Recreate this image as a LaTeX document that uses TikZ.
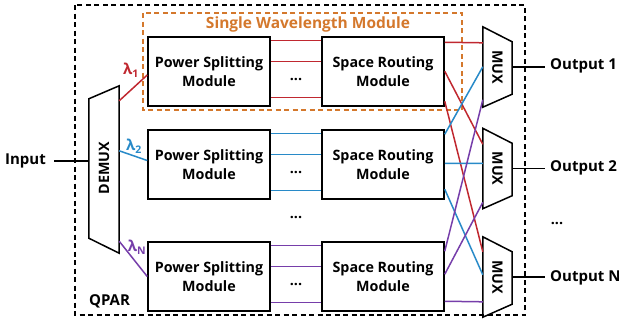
\documentclass[tikz,border=0pt]{standalone}
\usepackage{fontspec}
\setmainfont{Open Sans}
\usetikzlibrary{calc}
\definecolor{lred}{RGB}{192,40,48}
\definecolor{lblue}{RGB}{40,138,200}
\definecolor{lpurple}{RGB}{118,62,170}
\definecolor{orng}{RGB}{212,120,44}
\begin{document}
\begin{tikzpicture}[x=1pt,y=-1pt,
  font=\bfseries\fontsize{14.3}{18.5}\selectfont,
  module/.style={draw,line width=1.5pt,minimum width=122pt,minimum height=69pt,
    align=center,inner sep=0pt},
  muxbox/.style={minimum width=29pt,minimum height=80pt,inner sep=0pt},
  outline/.style={line width=1.5pt,line join=miter},
  wire/.style={line width=1.5pt},
  rw/.style={wire,lred},
  bw/.style={wire,lblue},
  pw/.style={wire,lpurple},
  lbl/.style={font=\bfseries\fontsize{15}{18}\selectfont},
  lam/.style={font=\bfseries\fontsize{15}{17}\selectfont,inner sep=0pt},
  dots/.style={inner sep=0pt}]
\useasboundingbox (0,0) rectangle (619,322);

% enclosing QPAR frame and the single-wavelength group
\draw[line width=1.3pt,dash pattern=on 5pt off 3.5pt] (75,5) rectangle (525,315);
\draw[orng,line width=1.3pt,dash pattern=on 5pt off 3.5pt] (143,13) rectangle (462,110);
\node[text=orng,font=\bfseries\fontsize{15.5}{18}\selectfont] (swm) at (308,24.5) {Single Wavelength Module};
\node[lbl] (qpar) at (109.5,301) {QPAR};

% power splitting and space routing modules
\node[module] (ps1) at (209,71.5) {Power Splitting\\Module};
\node[module] (ps2) at (209,164.5) {Power Splitting\\Module};
\node[module] (psn) at (209,276.5) {Power Splitting\\Module};
\node[module] (sr1) at (383,71.5) {Space Routing\\Module};
\node[module] (sr2) at (383,164.5) {Space Routing\\Module};
\node[module] (srn) at (383,276.5) {Space Routing\\Module};

% parallel wires between the two module columns
\foreach \a/\b/\s in {ps1/sr1/rw,ps2/sr2/bw,psn/srn/pw}{
  \foreach \d in {4,25,61}{
    \draw[\s] ($(\a.north east)+(0,\d)$) -- ($(\b.north west)+(0,\d)$);
  }
}
\node[dots] (d1) at (296,79) {...};
\node[dots] (d2) at (296,172) {...};
\node[dots] (d3) at (296,284) {...};
\node[dots] (dm) at (296,217) {...};

% demultiplexer
\node[minimum width=30pt,minimum height=167pt,inner sep=0pt] (demux) at (104,169.5) {};
\draw[outline] (demux.north east) -- (demux.south east)
  -- ($(demux.south west)+(0,-15)$) -- ($(demux.north west)+(0,13)$) -- cycle;
\node[rotate=90] (demuxt) at (104,168) {DEMUX};

\node[lbl,anchor=east,inner sep=0pt] (inp) at (46,161) {Input};
\draw[wire] ($(inp.east)+(8,0)$) -- (inp.east -| demux.west);

% wavelength channels
\draw[rw] ($(demux.north east)+(0,15)$) -- ($(ps1.west)+(0,3.5)$);
\draw[bw] ($(demux.north east)+(0,65)$) -- ($(ps2.west)+(0,-4)$);
\draw[pw] ($(demux.south east)+(0,-12)$) -- (psn.west);
\node[lam,text=lred] (l1) at (131,70) {λ\textsubscript{1}};
\node[lam,text=lblue] (l2) at (134,146) {λ\textsubscript{2}};
\node[lam,text=lpurple] (ln) at (137,247) {λ\textsubscript{N}};

% multiplexers
\foreach \m/\y in {mux1/67,mux2/168.5,muxn/277}{
  \node[muxbox] (\m) at (497.5,\y) {};
  \draw[outline] (\m.north west) -- ($(\m.north east)+(0,15)$)
    -- ($(\m.south east)+(0,-13)$) -- (\m.south west) -- cycle;
  \node[rotate=-90] (\m t) at (\m) {MUX};
}

% routing from space routing modules to multiplexers
\draw[rw] ($(sr1.north east)+(0,6)$) -- ($(mux1.north west)+(0,16)$);
\draw[rw] ($(sr1.north east)+(0,35)$) -- ($(mux2.north west)+(0,16)$);
\draw[rw] ($(sr1.north east)+(0,65)$) -- ($(muxn.north west)+(0,15)$);
\draw[bw] ($(sr2.north east)+(0,5)$) -- ($(mux1.north west)+(0,40)$);
\draw[bw] ($(sr2.north east)+(0,34)$) -- ($(mux2.north west)+(0,35)$);
\draw[bw] ($(sr2.north east)+(0,60)$) -- ($(muxn.north west)+(0,38)$);
\draw[pw] ($(srn.north east)+(0,10)$) -- ($(mux1.north west)+(0,73)$);
\draw[pw] ($(srn.north east)+(0,33)$) -- ($(mux2.north west)+(0,74)$);
\draw[pw] ($(srn.north east)+(0,60)$) -- ($(muxn.north west)+(0,65)$);

% outputs
\node[lbl,anchor=west,inner sep=0pt] (o1) at (550,66) {Output 1};
\node[lbl,anchor=west,inner sep=0pt] (o2) at (550,167.5) {Output 2};
\node[lbl,anchor=west,inner sep=0pt] (on) at (550,278) {Output N};
\node[dots] (od) at (557,223) {...};
\draw[wire] (mux1.east) -- ($(mux1.east -| o1.west)+(-5,0)$);
\draw[wire] (mux2.east) -- ($(mux2.east -| o2.west)+(-5,0)$);
\draw[wire] (muxn.east) -- ($(muxn.east -| on.west)+(-5,0)$);
\end{tikzpicture}
\end{document}
